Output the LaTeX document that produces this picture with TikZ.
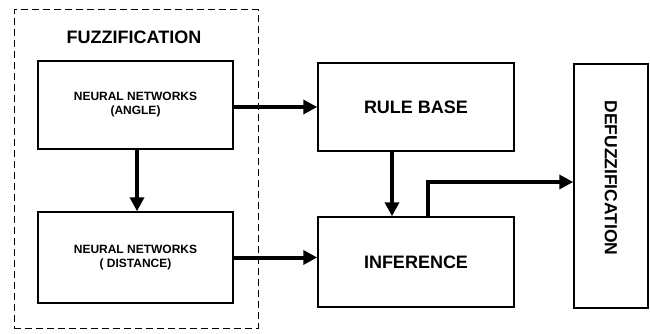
\documentclass[tikz,border=0pt]{standalone}
\usepackage{fontspec}
\setmainfont{Liberation Sans}
\usetikzlibrary{arrows.meta}
\begin{document}
\begin{tikzpicture}[x=1pt,y=-1pt,
  box/.style={draw=black,line width=1.5pt,fill=white,inner sep=0pt,align=center,font=\bfseries\fontsize{18}{20}\selectfont},
  small/.style={font=\bfseries\fontsize{12}{14}\selectfont},
  conn/.style={line width=4pt,-{Triangle[length=14pt,width=14pt]}},
  group/.style={draw=black,line width=1pt,dash pattern=on 7pt off 4pt,inner sep=0pt}
]
\useasboundingbox (0,0) rectangle (650,334);
\node[group,minimum width=244pt,minimum height=318pt] (fuzz) at (136,169) {};
\node[font=\bfseries\fontsize{18}{20}\selectfont] (fuzzlbl) at (134,37) {FUZZIFICATION};
\node[box,small,minimum width=195pt,minimum height=88pt] (angle) at (135.5,105) {NEURAL NETWORKS\\(ANGLE)};
\node[box,small,minimum width=195pt,minimum height=91pt] (dist) at (135.5,257.5) {NEURAL NETWORKS\\( DISTANCE)};
\node[box,minimum width=196pt,minimum height=88pt] (rule) at (416,107) {RULE BASE};
\node[box,minimum width=196pt,minimum height=90pt] (inf) at (416,262) {INFERENCE};
\node[box,minimum width=74pt,minimum height=244pt] (defuzz) at (611,186) {};
\node[font=\bfseries\fontsize{17.5}{20}\selectfont,rotate=-90] (defuzzlbl) at (611,178) {DEFUZZIFICATION};
\draw[conn] ([xshift=1.5pt]angle.south) -- ([xshift=1.5pt]dist.north);
\draw[conn] (angle.east |- rule.west) -- (rule.west);
\draw[conn] (dist.east) -- (dist.east -| inf.west);
\draw[conn] ([xshift=-24pt]rule.south) -- ([xshift=-24pt]inf.north);
\draw[conn] ([xshift=12pt]inf.north) |- ([yshift=4pt]defuzz.west);
\end{tikzpicture}
\end{document}
